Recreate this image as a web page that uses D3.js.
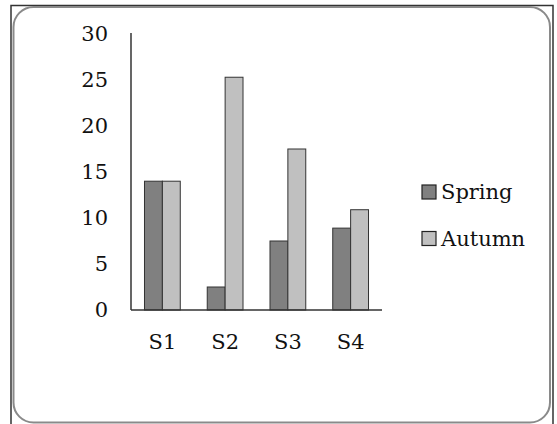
<!DOCTYPE html>
<html>
<head>
<meta charset="utf-8">
<script src="https://cdn.jsdelivr.net/npm/d3@7/dist/d3.min.js"></script>
<style>
  html, body { margin: 0; padding: 0; background: #fff; }
  svg { display: block; }
  text { font-family: "DejaVu Serif", serif; fill: #111; }
</style>
</head>
<body>
<svg id="chart" width="557" height="424"></svg>
<script>
const categories = ["S1", "S2", "S3", "S4"];
const seriesNames = ["Spring", "Autumn"];
const springValues = [14, 2.5, 7.5, 8.9];
const autumnValues = [14, 25.3, 17.5, 10.9];
const yTicks = [0, 5, 10, 15, 20, 25, 30];
const colors = ["#808080", "#c0c0c0"];

const svg = d3.select("#chart");

// outer frame
svg.append("path")
  .attr("d", "M11,426 L11,5.5 L553,5.5 L553,426")
  .attr("fill", "none").attr("stroke", "#333").attr("stroke-width", 1.5);
// inner rounded border
svg.append("rect")
  .attr("x", 13.5).attr("y", 7).attr("width", 536.5).attr("height", 415.5)
  .attr("rx", 20).attr("ry", 20)
  .attr("fill", "#fff").attr("stroke", "#8a8a8a").attr("stroke-width", 2);

const x0 = d3.scaleBand().domain(categories).range([131, 382])
  .paddingInner(0.43).paddingOuter(0.215);
const x1 = d3.scaleBand().domain(seriesNames).range([0, x0.bandwidth()]);
const y = d3.scaleLinear().domain([0, 30]).range([310, 34]);

const data = categories.map((c, i) => ({ cat: c, vals: [springValues[i], autumnValues[i]] }));

// bars
const groups = svg.append("g").selectAll("g").data(data).join("g")
  .attr("transform", d => `translate(${x0(d.cat)},0)`);
groups.selectAll("rect").data(d => d.vals.map((v, j) => ({ v, s: seriesNames[j], j })))
  .join("rect")
  .attr("x", d => x1(d.s))
  .attr("y", d => y(d.v))
  .attr("width", x1.bandwidth())
  .attr("height", d => y(0) - y(d.v))
  .attr("fill", d => colors[d.j])
  .attr("stroke", "#333").attr("stroke-width", 1);

// y axis
const yAxis = d3.axisLeft(y).tickValues(yTicks).tickSize(0).tickPadding(23);
const gy = svg.append("g").attr("transform", "translate(131,0)").call(yAxis);
gy.select(".domain").attr("stroke", "#000").attr("stroke-width", 1.2)
  .attr("d", `M0,${y(30) - 1}V${y(0)}`);
gy.selectAll("text").attr("font-size", 21).attr("font-family", "DejaVu Serif, serif").attr("fill", "#111");

// x axis
const xAxis = d3.axisBottom(x0).tickSize(0).tickPadding(24);
const gx = svg.append("g").attr("transform", `translate(0,${y(0)})`).call(xAxis);
gx.select(".domain").attr("stroke", "#333").attr("stroke-width", 1.5)
  .attr("d", "M131,0H382");
gx.selectAll("text").attr("font-size", 21).attr("font-family", "DejaVu Serif, serif").attr("fill", "#111");

// legend
const legend = svg.append("g").selectAll("g").data(seriesNames).join("g")
  .attr("transform", (d, i) => `translate(422,${185 + i * 46.5})`);
legend.append("rect")
  .attr("width", 14).attr("height", 14)
  .attr("fill", (d, i) => colors[i])
  .attr("stroke", "#222").attr("stroke-width", 1.2);
legend.append("text")
  .attr("x", 19).attr("y", 7).attr("dy", "0.35em")
  .attr("font-size", 21)
  .text(d => d);
</script>
</body>
</html>
